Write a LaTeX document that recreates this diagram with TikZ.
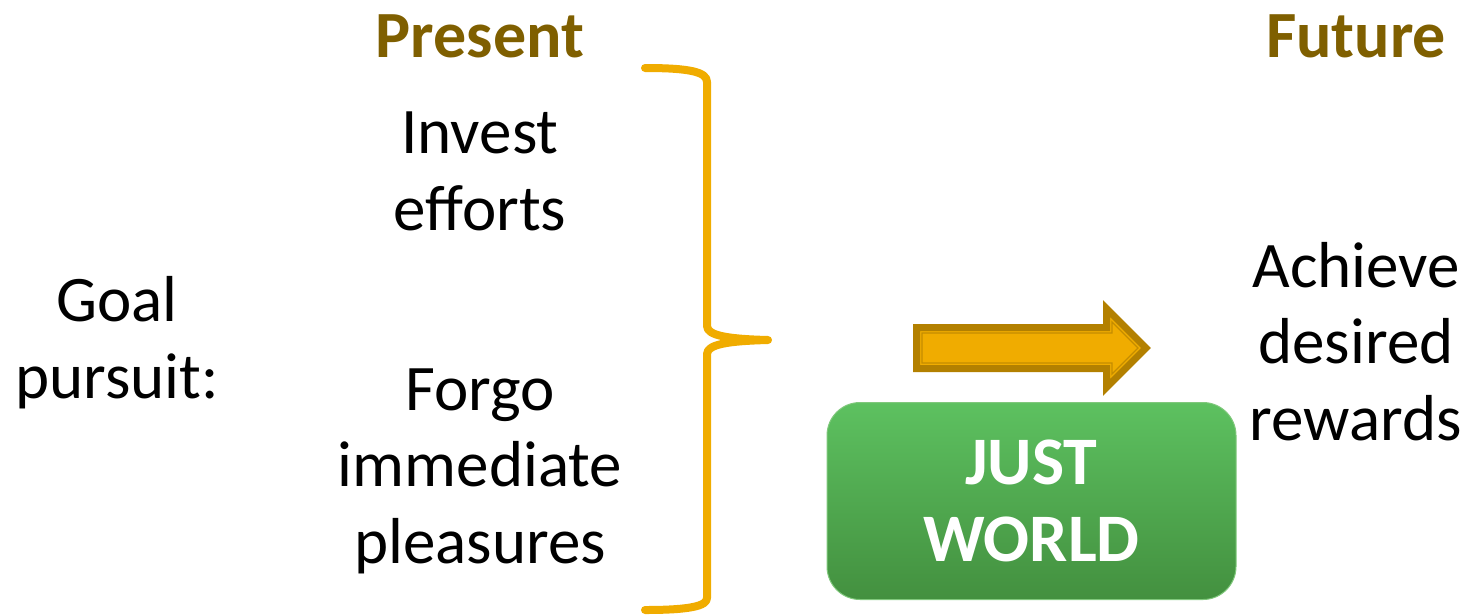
\documentclass[tikz,border=0pt]{standalone}
\usepackage{fontspec}
\setmainfont{Carlito}
\definecolor{headbrown}{HTML}{7F5F00}
\definecolor{gold}{HTML}{F0AC00}
\definecolor{golddark}{HTML}{B38000}
\definecolor{goldline}{HTML}{C48C00}
\definecolor{greentop}{HTML}{5DC160}
\definecolor{greenbot}{HTML}{43903F}
\definecolor{greenedge}{HTML}{80C87C}
\begin{document}
\begin{tikzpicture}[x=1pt,y=-1pt,
  body/.style={font=\fontsize{65}{76.5}\selectfont, align=center, inner sep=0pt, anchor=base},
  headlabel/.style={font=\fontsize{66}{76}\selectfont\bfseries, text=headbrown, inner sep=0pt, anchor=base},
  bracestyle/.style={draw=gold, line width=8pt, line cap=round, line join=round},
  worldbox/.style={rounded corners=33pt, minimum width=409pt, minimum height=197pt,
    top color=greentop, bottom color=greenbot, draw=greenedge, line width=1pt,
    text=white, align=center, inner sep=0pt,
    font=\fontsize{68}{77}\selectfont\bfseries}]
\useasboundingbox (0,0) rectangle (1469,614);

% headings
\node[headlabel] (present) at (480,57) {Present};
\node[headlabel] (future) at (1356,57) {Future};

% texts (anchor base = baseline of last line)
\node[body] (goal) at (117,398) {Goal\\pursuit:};
\node[body] (invest) at (480,230) {Invest\\efforts};
\node[body] (forgo) at (480,563) {Forgo\\immediate\\pleasures};
\node[body] (achieve) at (1356,440) {Achieve\\desired\\rewards};

% brace
\draw[bracestyle] (645,68) .. controls (690,68) and (707,72) .. (707,82)
  -- (707,326) .. controls (707,336) and (730,339) .. (768,340)
  .. controls (730,341) and (707,344) .. (707,354)
  -- (707,598) .. controls (707,606) and (690,610) .. (645,610);

% arrow
\draw[fill=gold, draw=golddark, line width=7pt, line join=miter]
  (916.5,327.5) -- (1106.5,327.5) -- (1106.5,308.5) -- (1146,348)
  -- (1106.5,387.5) -- (1106.5,368.5) -- (916.5,368.5) -- cycle;
\draw[draw=goldline, line width=1.3pt, line join=miter]
  (922,333) -- (1112,333) -- (1112,322) -- (1138,348)
  -- (1112,374) -- (1112,363) -- (922,363) -- cycle;

% just world box
\node[worldbox] (world) at (1031.5,501) {JUST\\WORLD};
\end{tikzpicture}
\end{document}
